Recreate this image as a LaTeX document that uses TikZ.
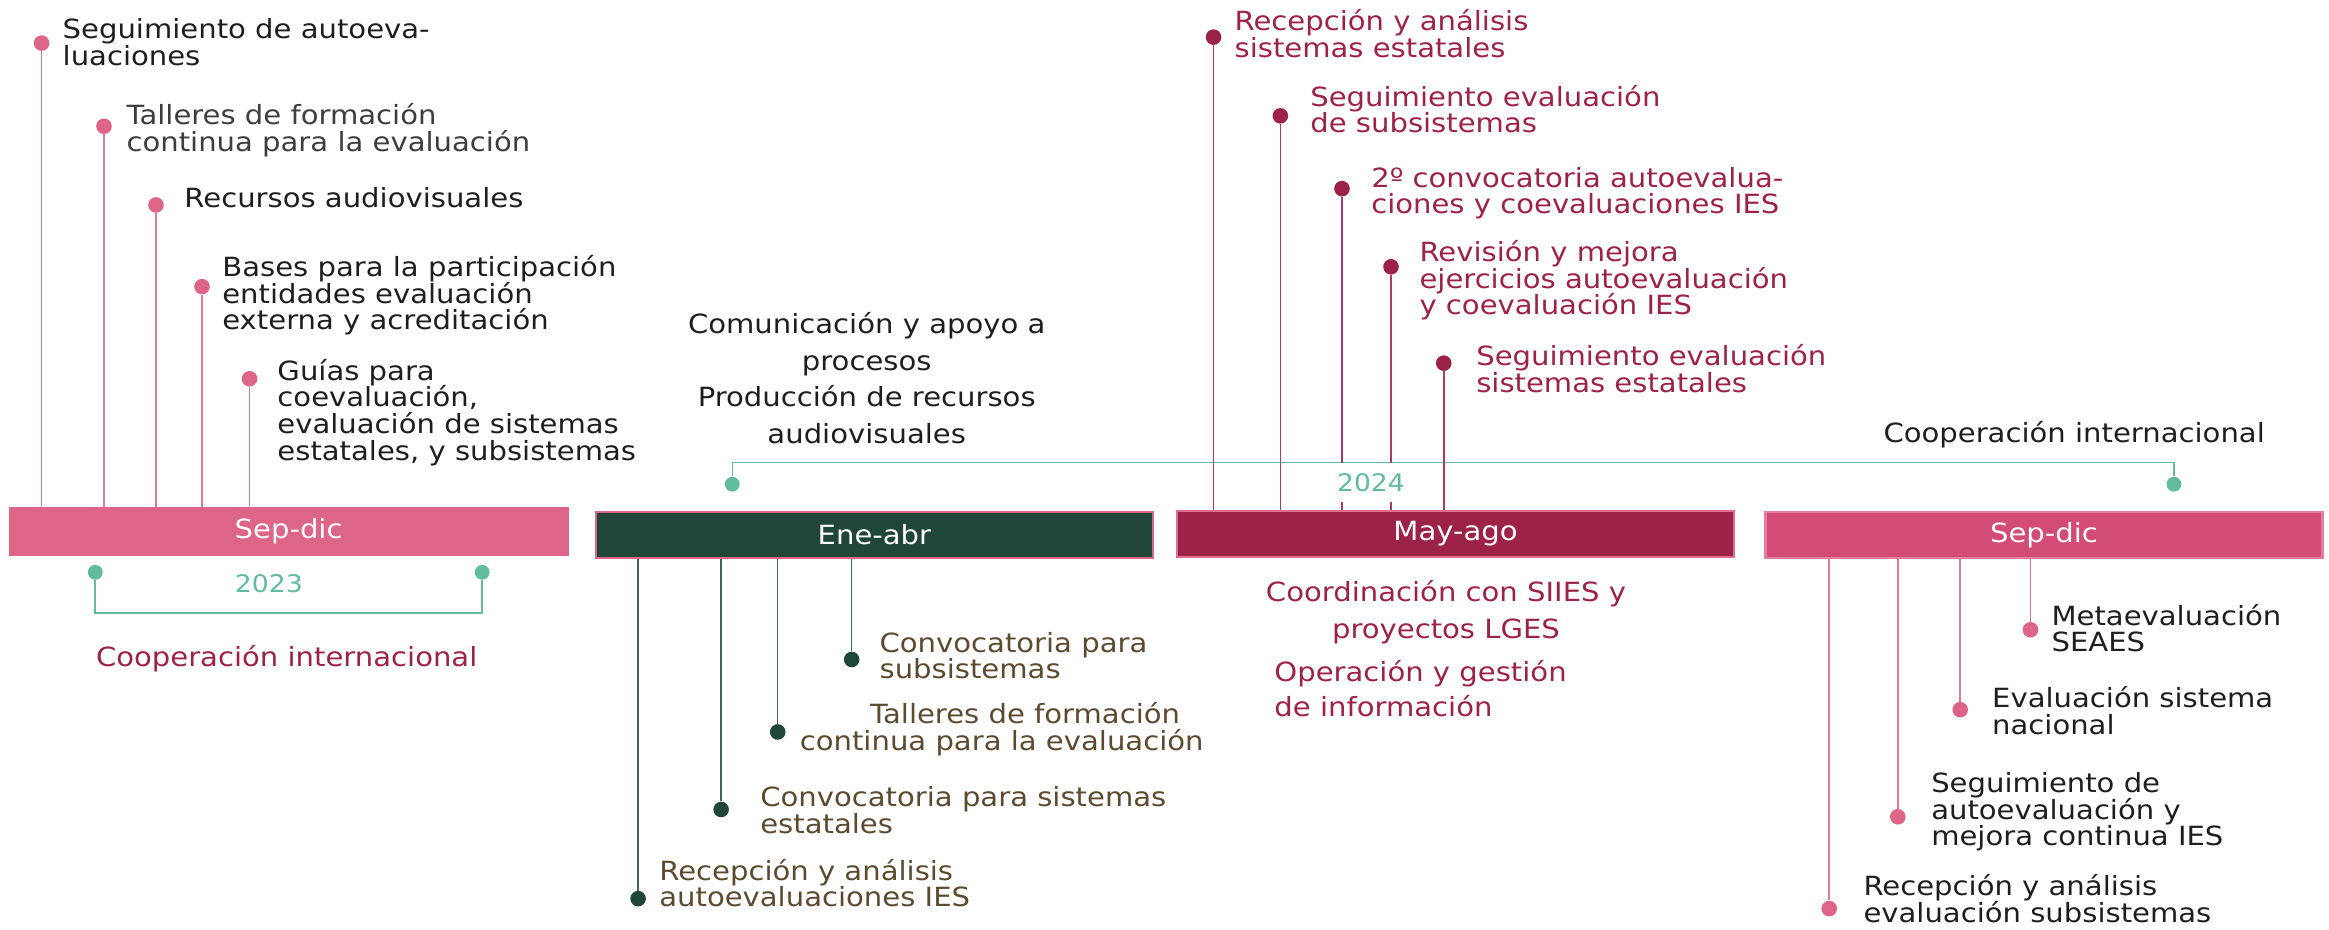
\documentclass[tikz,border=0pt]{standalone}
\usepackage{fontspec}
\setmainfont{DejaVu Sans}[FakeStretch=1.1]
\definecolor{pinkA}{HTML}{DD6587}
\definecolor{pinkStem}{HTML}{E07C9A}
\definecolor{greenD}{HTML}{1F4639}
\definecolor{greenStem}{HTML}{3E6358}
\definecolor{maroonA}{HTML}{9C2247}
\definecolor{maroonStem}{HTML}{B03A62}
\definecolor{pinkB}{HTML}{D24C75}
\definecolor{pinkC}{HTML}{E06C8E}
\definecolor{pinkD}{HTML}{E57E9C}
\definecolor{tealA}{HTML}{62BB9F}
\definecolor{brownT}{HTML}{5C4A30}
\definecolor{ink}{HTML}{1E1E1C}
\definecolor{inkG}{HTML}{3D3D3D}
\begin{document}
\begin{tikzpicture}[x=1pt,y=-1pt,
  lbl/.style={anchor=base west, align=left, inner sep=0pt, font=\fontsize{17.8}{18}\selectfont},
  ctr/.style={anchor=base, align=center, inner sep=0pt, font=\fontsize{17.8}{18}\selectfont},
  bead/.style={circle, inner sep=0pt, minimum size=10.5pt, fill=#1},
  barbox/.style={inner sep=0pt, minimum width=377pt, minimum height=33pt, text=white, font=\fontsize{17.8}{18}\selectfont},
  framed/.style={draw=#1, line width=1.5pt, minimum width=375pt, minimum height=31pt},
  stem/.style={line width=1pt, draw=#1},
  year/.style={text=tealA, font=\fontsize{16.3}{18}\selectfont},
]
\useasboundingbox (0,0) rectangle (1568,626);

% bars
\node[barbox, fill=pinkA] (b1) at (194.3,357.9) {Sep-dic};
\node[barbox, framed=pinkA, fill=greenD] (b2) at (588.7,360.2) {Ene-abr};
\node[barbox, framed=pinkC, fill=maroonA] (b3) at (979.9,359.5) {May-ago};
\node[barbox, framed=pinkD, fill=pinkB] (b4) at (1376.1,360.3) {Sep-dic};

% ---- Sep-dic 2023 (above)
\node[bead=pinkA] (l1) at (28,29) {};
\node[bead=pinkA] (l2) at (70,85) {};
\node[bead=pinkA] (l3) at (105,138) {};
\node[bead=pinkA] (l4) at (136,193) {};
\node[bead=pinkA] (l5) at (168,255) {};
\foreach \n in {l1,l2,l3,l4,l5} \draw[stem=pinkStem] (\n) -- (\n |- b1.north);
\node[lbl, text=ink] (t1) at (42,44) {Seguimiento de autoeva-\\luaciones};
\node[lbl, text=inkG] (t2) at (85,102) {Talleres de formación\\continua para la evaluación};
\node[lbl, text=ink] (t3) at (124,140) {Recursos audiovisuales};
\node[lbl, text=ink] (t4) at (149.5,222) {Bases para la participación\\entidades evaluación\\externa y acreditación};
\node[lbl, text=ink] (t5) at (186.6,310) {Guías para\\coevaluación,\\evaluación de sistemas\\estatales, y subsistemas};

% ---- 2023 bracket
\node[bead=tealA, minimum size=10pt] (g1) at (64.2,385.3) {};
\node[bead=tealA, minimum size=10pt] (g2) at (324.6,385.3) {};
\coordinate (gb) at (0,412.5);
\draw[tealA, line width=1.2pt] (g1) -- (g1 |- gb) -| (g2);
\node[year, anchor=base, inner sep=0pt] (y23) at (181,398.8) {2023};
\node[ctr, text=maroonA] (c23) at (193,448.8) {Cooperación internacional};

% ---- Ene-abr (below)
\node[bead=greenD] (e1) at (429.6,605) {};
\node[bead=greenD] (e2) at (485.5,545) {};
\node[bead=greenD] (e3) at (523.6,492.8) {};
\node[bead=greenD] (e4) at (573.4,444) {};
\foreach \n in {e1,e2,e3,e4} \draw[stem=greenStem] (\n) -- (\n |- b2.south);
\node[lbl, text=brownT] (u4) at (592,457) {Convocatoria para\\subsistemas};
\node[lbl, text=brownT] (u3) at (538.3,505.3) {\hspace*{47.3pt}Talleres de formación\\continua para la evaluación};
\node[lbl, text=brownT] (u2) at (511.7,561.2) {Convocatoria para sistemas\\estatales};
\node[lbl, text=brownT] (u1) at (443.7,610.6) {Recepción y análisis\\autoevaluaciones IES};

% ---- Comunicación block
\node[ctr, text=ink, font=\fontsize{17.8}{24.7}\selectfont] (com) at (583.5,298.5) {Comunicación y apoyo a\\procesos\\Producción de recursos\\audiovisuales};

% ---- 2024 green bracket
\node[bead=tealA, minimum size=10pt] (g3) at (493,326) {};
\node[bead=tealA, minimum size=10pt] (g4) at (1463.6,326) {};
\coordinate (gt) at (0,311.3);
\draw[tealA, line width=1pt] (g3) -- (g3 |- gt) -| (g4);
\node[ctr, text=ink] (c24) at (1396.4,297.9) {Cooperación internacional};

% ---- May-ago (above)
\node[bead=maroonA] (m1) at (817,25) {};
\node[bead=maroonA] (m2) at (862,78) {};
\node[bead=maroonA] (m3) at (903.5,127) {};
\node[bead=maroonA] (m4) at (936.5,179.6) {};
\node[bead=maroonA] (m5) at (972,244.5) {};
\foreach \n in {m1,m2,m3,m4,m5} \draw[stem=maroonStem] (\n) -- (\n |- b3.north);
\node[lbl, text=maroonA] (v1) at (831,38.5) {Recepción y análisis\\sistemas estatales};
\node[lbl, text=maroonA] (v2) at (882,89.5) {Seguimiento evaluación\\de subsistemas};
\node[lbl, text=maroonA] (v3) at (923,144) {2º convocatoria autoevalua-\\ciones y coevaluaciones IES};
\node[lbl, text=maroonA] (v4) at (955.5,212) {Revisión y mejora\\ejercicios autoevaluación\\y coevaluación IES};
\node[lbl, text=maroonA] (v5) at (993.7,264) {Seguimiento evaluación\\sistemas estatales};
\node[year, fill=white, inner xsep=4pt, inner ysep=0pt, minimum height=26pt] (y24) at (923,325) {2024};

% ---- May-ago (below)
\node[ctr, text=maroonA, font=\fontsize{17.8}{25}\selectfont] (coord) at (973.5,429.8) {Coordinación con SIIES y\\proyectos LGES};
\node[lbl, text=maroonA, font=\fontsize{17.8}{24}\selectfont] (oper) at (857.8,482.5) {Operación y gestión\\de información};

% ---- Sep-dic 2024 (below)
\node[bead=pinkA] (r1) at (1231.5,611.7) {};
\node[bead=pinkA] (r2) at (1277.7,549.9) {};
\node[bead=pinkA] (r3) at (1319.7,477.8) {};
\node[bead=pinkA] (r4) at (1367,424) {};
\foreach \n in {r1,r2,r3,r4} \draw[stem=pinkStem] (\n) -- (\n |- b4.south);
\node[lbl, text=ink] (w4) at (1381,438.8) {Metaevaluación\\SEAES};
\node[lbl, text=ink] (w3) at (1341,494.4) {Evaluación sistema\\nacional};
\node[lbl, text=ink] (w2) at (1300,569.5) {Seguimiento de\\autoevaluación y\\mejora continua IES};
\node[lbl, text=ink] (w1) at (1254.4,620.8) {Recepción y análisis\\evaluación subsistemas};
\end{tikzpicture}
\end{document}
